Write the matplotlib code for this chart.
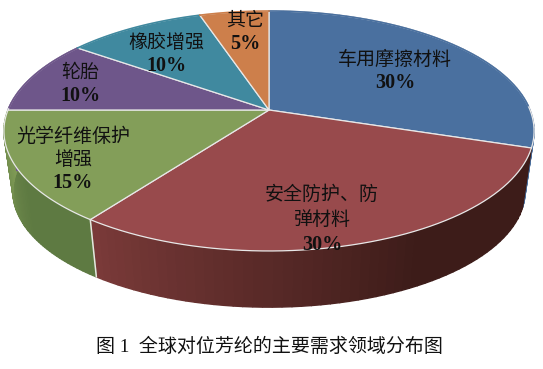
import matplotlib
matplotlib.use('Agg')
import matplotlib.pyplot as plt
import numpy as np
from matplotlib.colors import to_rgb

plt.rcParams['font.family'] = ['Liberation Serif', 'Noto Sans CJK SC']

names = [['车用摩擦材料'], ['安全防护、防', '弹材料'], ['光学纤维保护', '增强'], ['轮胎'], ['橡胶增强'], ['其它']]
shares = [30, 30, 15, 10, 10, 5]
top_colors = ['#4a709f', '#984a4c', '#839e59', '#6e568a', '#40899f', '#cd7f4b']
wall_start = ['#8a93a5', '#3d1c19', '#5e7a42', '#6e568a', '#40899f', '#cd7f4b']
wall_end = ['#4a709f', '#7a3a39', '#7f9a55', '#6e568a', '#40899f', '#cd7f4b']
title = '图 1  全球对位芳纶的主要需求领域分布图'

# label centres in pixels, first line then the rest
label_x = [395, 322, 73, 80, 166, 245]
label_y = [60, 195, 137, 73, 43, 21]
line_gap = [23, 25, 23, 23, 23, 23]

# perspective of the pie, fitted to the picture
cx, cy = 269, 110
rx, ry, tilt = 261, 116.3, 0.175
floor_y, floor_scale = 171, 0.966


def project(a, lower=False):
    u, v = np.cos(a), np.sin(a)
    d = 1 + tilt * v
    x, y = rx * u / d, ry * v / d
    if lower:
        return cx + x * floor_scale, floor_y - y * floor_scale
    return cx + x, cy - y


fig = plt.figure(figsize=(5.43, 3.69), dpi=100)
ax = fig.add_axes([0, 0, 1, 1])
ax.set_xlim(0, 543)
ax.set_ylim(369, 0)
ax.axis('off')

# clockwise from 12 o'clock
ends = 90 - 3.6 * np.cumsum([0] + shares)
arcs = [np.radians(np.linspace(ends[i], ends[i + 1], 60)) for i in range(len(shares))]

# side wall, only the slices facing us
for i, arc in enumerate(arcs):
    if np.sin(arc).min() >= 0:
        continue
    c0, c1 = np.array(to_rgb(wall_start[i])), np.array(to_rgb(wall_end[i]))
    for j in range(len(arc) - 1):
        a = arc[j:j + 2]
        xt, yt = project(a)
        xb, yb = project(a[::-1], True)
        f = j / (len(arc) - 2)
        col = c0 + (c1 - c0) * max(0, (f - 0.4) / 0.6)
        ax.fill(np.r_[xt, xb], np.r_[yt, yb], facecolor=col, edgecolor=col, lw=1.0)

# white edge on the wall between red and green
xt, yt = project(arcs[1][-1])
xb, yb = project(arcs[1][-1], True)
ax.plot([xt, xb], [yt, yb], color='#e6e6e0', lw=1.1)

# top face
for i, arc in enumerate(arcs):
    x, y = project(arc)
    ax.fill(np.r_[cx, x], np.r_[cy, y], facecolor=top_colors[i], edgecolor='#e8e8e8', lw=0.9, joinstyle='round')

# the back of the rim has no visible edge
for i, arc in enumerate(arcs):
    keep = np.sin(arc) > 0.02
    if keep.any():
        x, y = project(arc[keep])
        ax.plot(x, y, color=top_colors[i], lw=1.2)

for i, lines in enumerate(names):
    y = label_y[i]
    for line in lines:
        ax.text(label_x[i], y, line, ha='center', va='center', fontsize=13.7, color='#111111')
        y += line_gap[i]
    ax.text(label_x[i], y, f'{shares[i]}%', ha='center', va='center', fontsize=14.5,
            fontweight='bold', color='#111111')

ax.text(269, 347, title, ha='center', va='center', fontsize=13.7, color='#111111')

fig.savefig('out.png', dpi=100)
